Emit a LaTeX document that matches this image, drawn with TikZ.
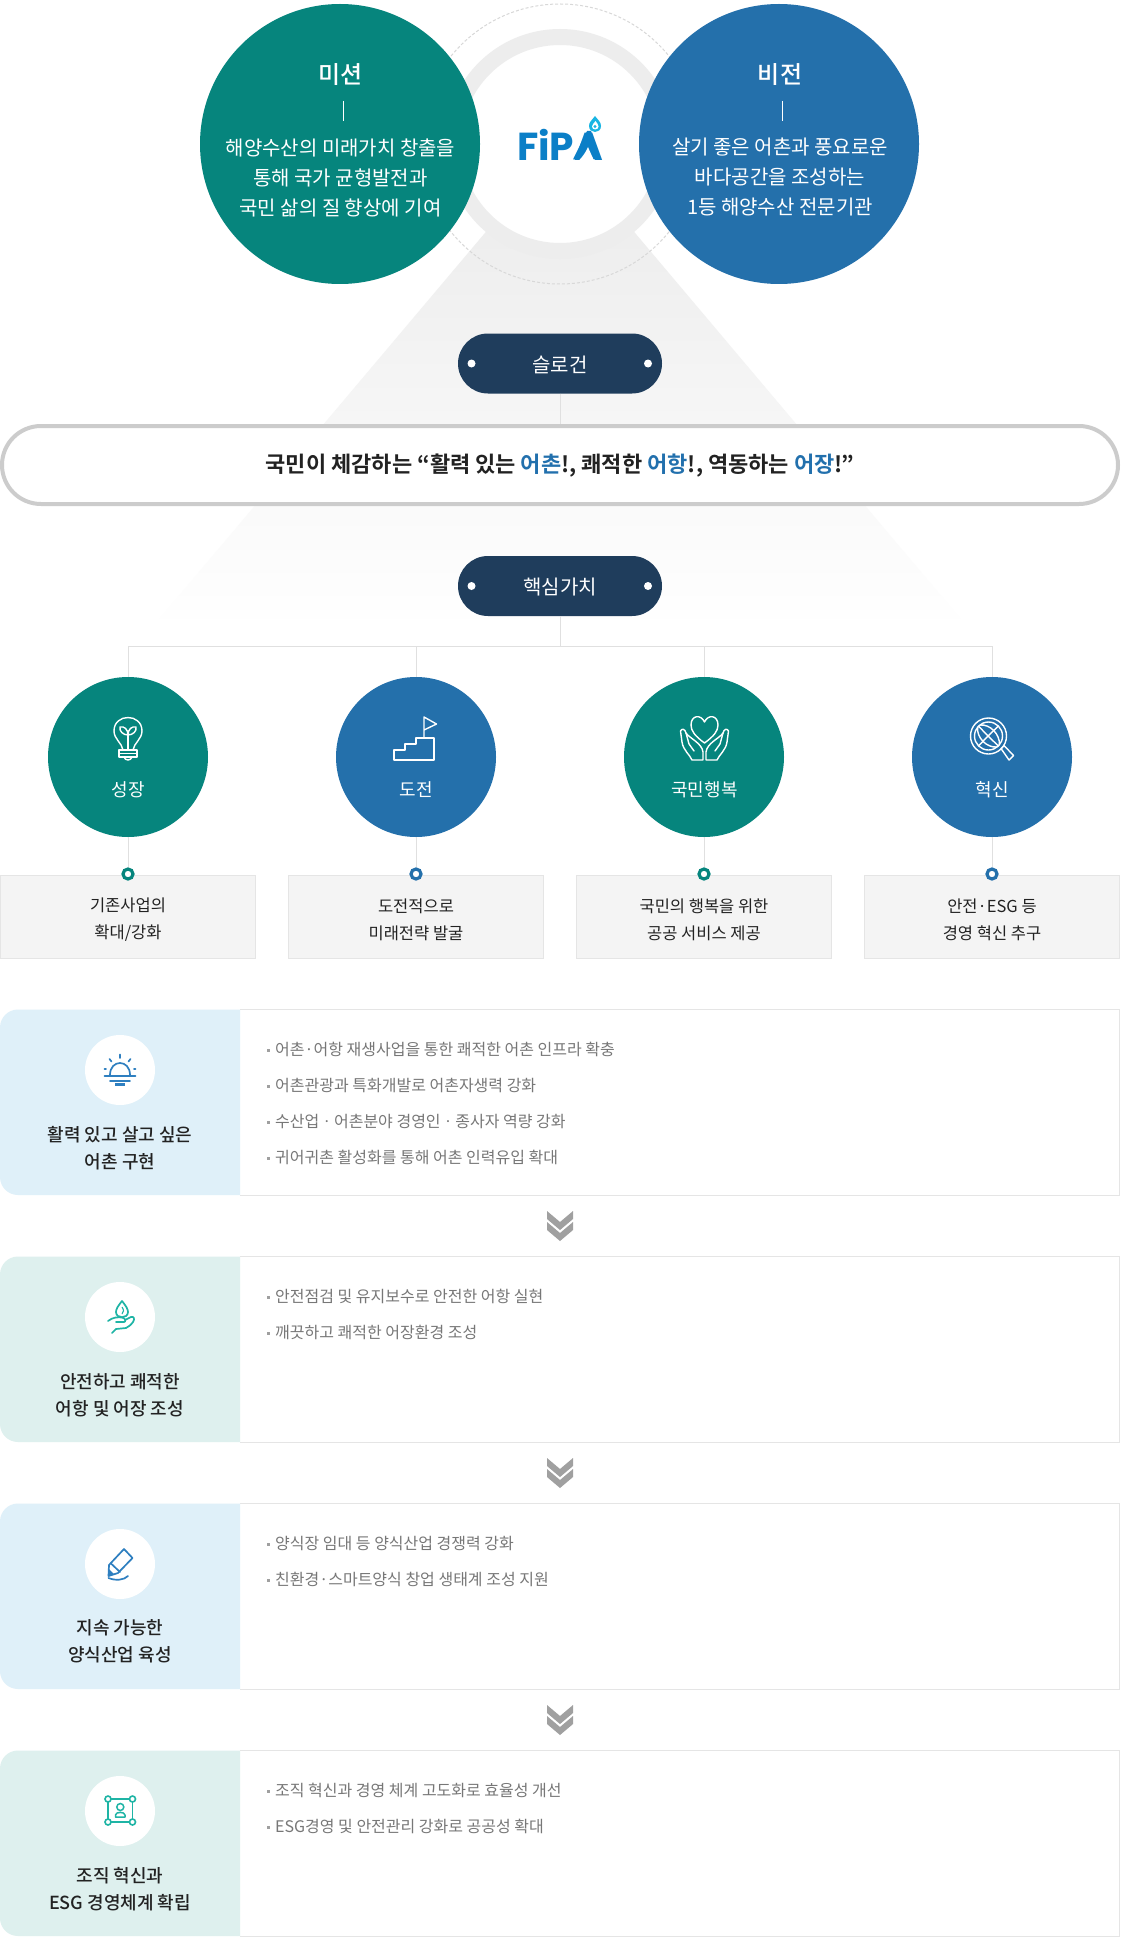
\documentclass[tikz,border=0pt]{standalone}
\usepackage{fontspec}
\setmainfont{Noto Sans CJK KR}
\newfontfamily\kor{Noto Sans CJK KR}
\newfontfamily\korm{Noto Sans CJK KR Medium}
\newfontfamily\korb{Noto Sans CJK KR Bold}
\newfontfamily\logofont{Poppins}
\newcommand{\fs}[2]{\fontsize{#1}{#2}\selectfont}
\definecolor{tealc}{RGB}{6,133,125}
\definecolor{bluec}{RGB}{36,112,171}
\definecolor{navyc}{RGB}{31,61,92}
\definecolor{linec}{RGB}{224,224,224}
\definecolor{dashc}{RGB}{216,216,216}
\definecolor{ringc}{RGB}{237,237,237}
\definecolor{triac}{RGB}{234,234,234}
\definecolor{pillb}{RGB}{204,204,204}
\definecolor{boxf}{RGB}{244,244,244}
\definecolor{boxl}{RGB}{229,229,229}
\definecolor{panb}{RGB}{223,240,249}
\definecolor{pant}{RGB}{222,240,238}
\definecolor{txtd}{RGB}{34,34,34}
\definecolor{txtg}{RGB}{119,119,119}
\definecolor{hl}{RGB}{34,112,173}
\definecolor{icob}{RGB}{46,127,192}
\definecolor{icot}{RGB}{30,180,165}
\definecolor{logob}{RGB}{11,127,199}
\definecolor{logod}{RGB}{25,181,227}
\definecolor{chev}{RGB}{160,160,160}
\tikzset{
  bigc/.style={circle,minimum size=280pt,inner sep=0pt},
  valc/.style={circle,minimum size=160pt,inner sep=0pt},
  headt/.style={text=white,font=\korm\fs{24}{30},inner sep=0pt},
  bodyt/.style={text=white,font=\kor\fs{20}{30},align=center,inner sep=0pt},
  pillc/.style={fill=navyc,rounded corners=30pt,minimum width=204pt,minimum height=60pt,inner sep=0pt},
  pillt/.style={inner sep=0pt,text=white,font=\kor\fs{20}{24}},
  pilld/.style={circle,fill=white,minimum size=8pt,inner sep=0pt},
  conn/.style={draw=linec,line width=1pt},
  connw/.style={draw=white,line width=0.8pt},
  vallab/.style={text=white,font=\kor\fs{18}{22},inner sep=0pt},
  ringd/.style={circle,minimum size=10pt,inner sep=0pt,line width=3.2pt,fill=white},
  valbox/.style={draw=boxl,fill=boxf,line width=1pt,minimum width=255pt,minimum height=83pt,inner sep=0pt},
  valtxt/.style={inner sep=0pt,align=center,text=txtd,font=\kor\fs{16.5}{27}},
  icow/.style={draw=white,line width=1.4pt,line join=round,line cap=round},
  pico/.style={line width=1.7pt,line join=round,line cap=round},
  panc/.style={circle,fill=white,minimum size=70pt,inner sep=0pt},
  panl/.style={align=center,text=txtd,font=\korm\fs{18}{27},inner sep=0pt},
  item/.style={anchor=west,text=txtg,font=\kor\fs{16}{20},inner sep=0pt},
  bult/.style={rectangle,fill=chev,minimum size=3pt,inner sep=0pt},
  panr/.style={draw=boxl,line width=1pt},
  chevf/.style={fill=chev,draw=none}
}
\begin{document}
\begin{tikzpicture}[x=1pt,y=-1pt]
\useasboundingbox (0,0) rectangle (1120,1950);
\fill[white] (0,0) rectangle (1120,1950);
% backdrop triangle
\shade[top color=triac,bottom color=white] (560,144) -- (970,630) -- (150,630) -- cycle;
\fill[white] (560,144) circle (105);
\draw[dashc,line width=1pt,dash pattern=on 3pt off 2pt] (560,144) circle (140);
\draw[ringc,line width=16pt] (560,144) circle (107);
% logo
\node[inner sep=0pt,text=logob,font=\logofont\bfseries\fs{39}{40}] (logo) at (560,145) {FiPA};
\fill[logob] (573,159.5) -- (587,131) -- (591,131) -- (601,159.5) -- cycle;
\fill[white] (579,160.5) .. controls (583,156) and (586,152) .. (588,147) .. controls (590,152) and (592,156) .. (594,160.5) -- cycle;
\fill[logod] (595,116) .. controls (592,120) and (589,122) .. (589,126) .. controls (589,134) and (601,134) .. (601,126) .. controls (601,122) and (598,120) .. (595,116) -- cycle;
\fill[white] (595.5,121) .. controls (594,123.5) and (592,124.5) .. (592,126.5) .. controls (592,130.5) and (598.5,130.5) .. (598.5,126.5) .. controls (598.5,124.5) and (597,123.5) .. (595.5,121) -- cycle;
\fill[logod] (595,126.5) circle (1.6);
% mission / vision
\node[bigc,fill=tealc] (mission) at (340,144) {};
\node[bigc,fill=bluec] (vision) at (779,144) {};
\node[headt] (mtitle) at (340.5,75) {미션};
\node[headt] (vtitle) at (780,75) {비전};
\coordinate (ma) at (343.5,101); \coordinate (mb) at (343.5,121);
\coordinate (va) at (782.5,101); \coordinate (vb) at (782.5,121);
\draw[connw] (ma) -- (mb);
\draw[connw] (va) -- (vb);
\node[bodyt] (mtext) at (340.5,177.5) {해양수산의 미래가치 창출을\\통해 국가 균형발전과\\국민 삶의 질 향상에 기여};
\node[bodyt] (vtext) at (780,177.5) {살기 좋은 어촌과 풍요로운\\바다공간을 조성하는\\1등 해양수산 전문기관};
% slogan
\node[pillc] (slogan) at (560,363.5) {};
\node[pillt] (slogant) at (560,364.5) {슬로건};
\node[pilld] (sd1) at (471.5,363.5) {};
\node[pilld] (sd2) at (648,363.5) {};
\node[draw=pillb,fill=white,line width=4pt,rounded corners=39pt,minimum width=1116pt,minimum height=78pt,inner sep=0pt] (bigp) at (560,465) {};
\node[inner sep=0pt,text=txtd,font=\korb\fs{22}{26}] (bigt) at (560,465.5) {국민이 체감하는 “활력 있는 \textcolor{hl}{어촌}!, 쾌적한 \textcolor{hl}{어항}!, 역동하는 \textcolor{hl}{어장}!”};
\draw[conn] (slogan.south) -- (bigp.north);
\node[pillc] (core) at (560,586) {};
\node[pillt] (coret) at (560,587) {핵심가치};
\node[pilld] (cd1) at (471.5,586) {};
\node[pilld] (cd2) at (648,586) {};
% value circles
\node[valc,fill=tealc] (c1) at (128,757) {};
\node[valc,fill=bluec] (c2) at (416,757) {};
\node[valc,fill=tealc] (c3) at (704,757) {};
\node[valc,fill=bluec] (c4) at (992,757) {};
\coordinate (jn) at (560,646);
\draw[conn] (core.south) -- (jn);
\draw[conn] (c1.north) |- (jn);
\draw[conn] (c2.north) |- (jn);
\draw[conn] (c3.north) |- (jn);
\draw[conn] (c4.north) |- (jn);
\node[vallab] (l1) at (128.5,789.5) {성장};
\node[vallab] (l2) at (416.5,789.5) {도전};
\node[vallab] (l3) at (704.5,789.5) {국민행복};
\node[vallab] (l4) at (992.5,789.5) {혁신};
% value boxes
\node[valbox] (b1) at (128,916.5) {};
\node[valbox] (b2) at (416,916.5) {};
\node[valbox] (b3) at (704,916.5) {};
\node[valbox] (b4) at (992,916.5) {};
\node[valtxt] (bt1) at (128,919.5) {기존사업의\\확대/강화};
\node[valtxt] (bt2) at (416,919.5) {도전적으로\\미래전략 발굴};
\node[valtxt] (bt3) at (704,919.5) {국민의 행복을 위한\\공공 서비스 제공};
\node[valtxt] (bt4) at (992,919.5) {안전·ESG 등\\경영 혁신 추구};
\node[ringd,draw=tealc] (d1) at (128,874) {};
\node[ringd,draw=bluec] (d2) at (416,874) {};
\node[ringd,draw=tealc] (d3) at (704,874) {};
\node[ringd,draw=bluec] (d4) at (992,874) {};
\draw[conn] (c1.south) -- (d1.north);
\draw[conn] (c2.south) -- (d2.north);
\draw[conn] (c3.south) -- (d3.north);
\draw[conn] (c4.south) -- (d4.north);
% icon: bulb
\draw[icow] (123,750) .. controls (122,743) and (114,739) .. (114,731) .. controls (114,713) and (142,713) .. (142,731) .. controls (142,739) and (134,743) .. (133,750) -- cycle;
\draw[icow] (128,750) -- (128,733);
\draw[icow] (128,735) .. controls (123,735) and (119,731) .. (120,727) .. controls (124,726) and (128,729) .. (128,735);
\draw[icow] (128,735) .. controls (133,735) and (137,731) .. (136,727) .. controls (132,726) and (128,729) .. (128,735);
\draw[icow] (119,750) -- (137,750) -- (137,757) -- (119,757) -- cycle;
\draw[icow] (119,753.5) -- (137,753.5);
\draw[icow] (124,757) .. controls (125,761) and (131,761) .. (132,757);
% icon: stairs
\draw[icow] (394,760) -- (434,760) -- (434,738) -- (416,738) -- (416,744) -- (405,744) -- (405,750) -- (394,750) -- cycle;
\draw[icow] (424,738) -- (424,717) -- (436.5,724) -- (424,730);
% icon: heart and hands
\draw[icow] (704.5,743) .. controls (695,736) and (691,731) .. (691,725) .. controls (691,715) and (701,714) .. (704.5,722) .. controls (708,714) and (718,715) .. (718,725) .. controls (718,731) and (714,736) .. (704.5,743) -- cycle;
\draw[icow] (703,760) -- (692,760) .. controls (690,755) and (683,750) .. (682,742) -- (680.5,731) .. controls (682,728) and (685,729) .. (686,733) .. controls (689,738) and (702,743) .. (703,752) -- cycle;
\draw[icow] (706,760) -- (717,760) .. controls (719,755) and (726,750) .. (727,742) -- (728.5,731) .. controls (727,728) and (724,729) .. (723,733) .. controls (720,738) and (707,743) .. (706,752) -- cycle;
\draw[icow] (686,733) -- (689,744) -- (694,751);
\draw[icow] (723,733) -- (720,744) -- (715,751);
% icon: magnifier
\draw[icow] (988.5,736) circle (18);
\draw[icow] (988.5,736) circle (14);
\draw[icow] (978.6,726.1) .. controls (984,732) and (992,740) .. (998.4,745.9);
\draw[icow] (998.4,726.1) .. controls (992,732) and (984,740) .. (978.6,745.9);
\draw[icow] (980,725) .. controls (990,724) and (1000,734) .. (999.5,745);
\draw[icow] (977.5,727) .. controls (976.5,738) and (987,748) .. (997,747);
\draw[icow] (1001,748.5) -- (1004,745.5) -- (1013.5,755.5) -- (1009,760) -- cycle;
% panels
\def\panelbox#1#2#3{%
  \fill[#3] (240,#1) [rounded corners=18pt] -- (0,#1) -- (0,#2) [sharp corners] -- (240,#2) -- cycle;
  \draw[panr] (240,#1) -- (1119.5,#1) -- (1119.5,#2) -- (240,#2);
}
\panelbox{1009.5}{1195}{panb}
\panelbox{1256.5}{1442}{pant}
\panelbox{1503.5}{1689}{panb}
\panelbox{1750.5}{1936}{pant}
\node[panc] (pi1) at (120,1070) {};
\node[panc] (pi2) at (120,1317) {};
\node[panc] (pi3) at (120,1564) {};
\node[panc] (pi4) at (120,1811) {};
\node[panl] (pl1) at (120,1148.5) {활력 있고 살고 싶은\\어촌 구현};
\node[panl] (pl2) at (120,1395) {안전하고 쾌적한\\어항 및 어장 조성};
\node[panl] (pl3) at (120,1641.5) {지속 가능한\\양식산업 육성};
\node[panl] (pl4) at (120,1889.5) {조직 혁신과\\ESG 경영체계 확립};
% items
\def\bl#1#2{\node[bult] (#1) at (268,#2) {};}
\bl{ib1}{1050} \node[item] (it1) at (275,1049) {어촌·어항 재생사업을 통한 쾌적한 어촌 인프라 확충};
\bl{ib2}{1086} \node[item] (it2) at (275,1085) {어촌관광과 특화개발로 어촌자생력 강화};
\bl{ib3}{1122} \node[item] (it3) at (275,1121) {수산업ㆍ어촌분야 경영인ㆍ종사자 역량 강화};
\bl{ib4}{1158} \node[item] (it4) at (275,1157) {귀어귀촌 활성화를 통해 어촌 인력유입 확대};
\bl{ib5}{1297} \node[item] (it5) at (275,1296) {안전점검 및 유지보수로 안전한 어항 실현};
\bl{ib6}{1333} \node[item] (it6) at (275,1332) {깨끗하고 쾌적한 어장환경 조성};
\bl{ib7}{1544} \node[item] (it7) at (275,1543) {양식장 임대 등 양식산업 경쟁력 강화};
\bl{ib8}{1580} \node[item] (it8) at (275,1579) {친환경·스마트양식 창업 생태계 조성 지원};
\bl{ib9}{1791} \node[item] (it9) at (275,1790) {조직 혁신과 경영 체계 고도화로 효율성 개선};
\bl{ib10}{1827} \node[item] (it10) at (275,1826) {ESG경영 및 안전관리 강화로 공공성 확대};
% chevrons
\def\chevs#1{%
 \begin{scope}[yshift=-#1pt]
  \fill[chevf] (547,1211) -- (560,1222) -- (573,1211) -- (573,1219) -- (560,1230) -- (547,1219) -- cycle;
  \fill[chevf] (547,1222) -- (560,1233) -- (573,1222) -- (573,1230) -- (560,1241) -- (547,1230) -- cycle;
 \end{scope}}
\chevs{0}\chevs{247}\chevs{494}\chevs{741}
% panel icons
\draw[icob,pico] (110,1075) .. controls (110,1059) and (130,1059) .. (130,1075);
\draw[icob,pico] (104.5,1076) -- (135.5,1076);
\draw[icob,pico] (110,1081) -- (130,1081);
\draw[icob,line width=3pt] (115,1084.5) -- (125,1084.5);
\draw[icob,pico] (120,1054.5) -- (120,1058);
\draw[icob,pico] (109.5,1059) -- (111.5,1061.5);
\draw[icob,pico] (130.5,1059) -- (128.5,1061.5);
\draw[icob,pico] (104.5,1069) -- (106,1069);
\draw[icob,pico] (134,1069) -- (135.5,1069);
\draw[icot,pico] (122,1301) .. controls (118,1306) and (116,1309) .. (116,1312) .. controls (116,1319) and (128,1319) .. (128,1312) .. controls (128,1309) and (126,1306) .. (122,1301) -- cycle;
\draw[icot,line width=1.1pt] (122,1314) .. controls (124,1312) and (124,1310) .. (122,1307);
\draw[icot,pico] (108,1321) .. controls (113,1317) and (118,1317) .. (122,1317.5) .. controls (126,1318) and (126,1322) .. (124,1322) -- (116,1322);
\draw[icot,pico] (125,1320) -- (131,1317) .. controls (134,1316) and (135,1319) .. (133,1322) .. controls (131,1325) and (128,1327) .. (126,1328) -- (116,1329) -- (112,1333);
\draw[icob,pico] (124,1549) -- (132.5,1558) -- (118,1573) -- (108.5,1576) -- (109,1565) -- cycle;
\draw[icob,pico] (111,1563.5) -- (120,1572);
\fill[icob] (108.5,1576) -- (109,1569) -- (114.5,1574.5) -- cycle;
\draw[icob,pico] (108.5,1578) .. controls (116,1581) and (124,1580) .. (128,1576);
\draw[icot,pico] (108,1799) rectangle (132.5,1822);
\foreach \px/\py in {108/1799,132.5/1799,108/1822,132.5/1822}{\draw[icot,line width=1.6pt,fill=white] (\px,\py) circle (3);}
\draw[icot,line width=1.5pt] (120.3,1807) circle (3.5);
\draw[icot,line width=1.5pt,line join=round] (115.5,1817) -- (115.5,1815) .. controls (115.5,1811.5) and (125,1811.5) .. (125,1815) -- (125,1817) -- cycle;
\end{tikzpicture}
\end{document}
